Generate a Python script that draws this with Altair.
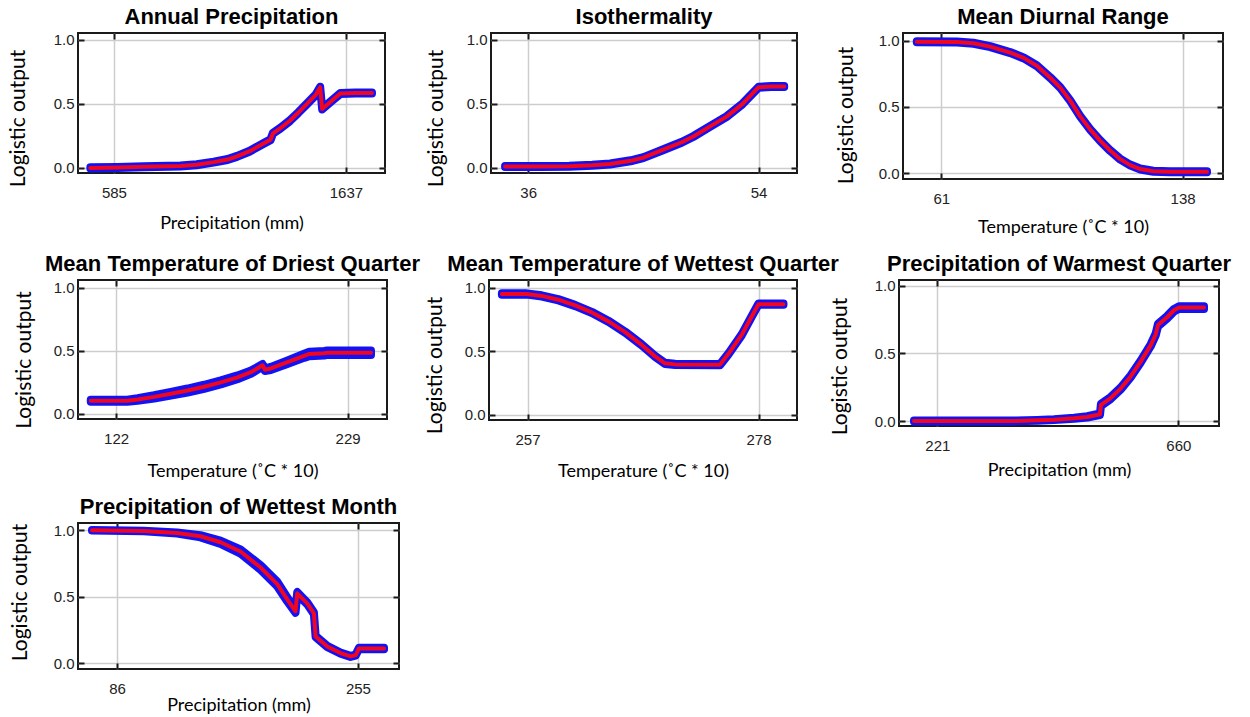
import altair as alt
import pandas as pd

BLUE = "#1212f5"
RED = "#f0061e"
GRID = "#cdcdcd"
FRAME = "#1a1a1a"

YTITLE = "Logistic output"
Y_TICKS = [0.0, 0.5, 1.0]

# ---- Annual Precipitation
AP_X = [478, 600, 720, 886, 960, 1037, 1100, 1143, 1200, 1263, 1295, 1306, 1340, 1384, 1420, 1460, 1500, 1520, 1529, 1570, 1611, 1680, 1755]
AP_Y = [0.0, 0.003, 0.008, 0.015, 0.025, 0.045, 0.065, 0.09, 0.13, 0.19, 0.22, 0.27, 0.31, 0.37, 0.43, 0.50, 0.57, 0.63, 0.46, 0.52, 0.58, 0.585, 0.585]
AP_SD = [0.004] * len(AP_X)
AP_TICKS = [585, 1637]

# ---- Isothermality
IS_X = [34.2, 37, 39.2, 41, 42.4, 44, 45.0, 46.5, 48, 48.9, 50.15, 51.5, 52.75, 54.0, 55, 56.0]
IS_Y = [0.01, 0.01, 0.012, 0.02, 0.03, 0.055, 0.08, 0.14, 0.2, 0.245, 0.32, 0.40, 0.50, 0.63, 0.635, 0.635]
IS_SD = [0.004] * len(IS_X)
IS_TICKS = [36, 54]

# ---- Mean Diurnal Range
MD_X = [53.2, 66, 71.3, 76.6, 83, 87.3, 91.5, 95.8, 99, 102.2, 105.3, 108.5, 111.7, 114.9, 118.1, 121.3, 124.5, 128.7, 134, 145.8]
MD_Y = [0.992, 0.99, 0.98, 0.955, 0.91, 0.87, 0.81, 0.72, 0.645, 0.545, 0.43, 0.33, 0.245, 0.17, 0.105, 0.06, 0.03, 0.013, 0.01, 0.01]
MD_SD = [0.004] * len(MD_X)
MD_TICKS = [61, 138]

# ---- Mean Temperature of Driest Quarter
DQ_X = [110.3, 127.2, 131.9, 139.6, 147.3, 155.0, 162.7, 170.4, 178.1, 184.3, 189.7, 190.8, 193.5, 201.2, 208.9, 211.3, 218.2, 219.7, 239.8]
DQ_Y = [0.105, 0.105, 0.115, 0.135, 0.16, 0.185, 0.215, 0.25, 0.29, 0.33, 0.385, 0.35, 0.36, 0.41, 0.46, 0.475, 0.48, 0.485, 0.485]
DQ_SD = [0.008, 0.008, 0.01, 0.013, 0.015, 0.016, 0.016, 0.016, 0.015, 0.013, 0.01, 0.01, 0.012, 0.014, 0.016, 0.018, 0.018, 0.018, 0.018]
DQ_TICKS = [122, 229]

# ---- Mean Temperature of Wettest Quarter
WQ_X = [254.67, 256.94, 258.3, 259.8, 261.33, 262.85, 264.36, 265.88, 267.39, 268.6, 269.5, 270.42, 274.5, 275.27, 276.48, 277.39, 278.0, 280.27]
WQ_Y = [0.95, 0.95, 0.935, 0.905, 0.86, 0.805, 0.735, 0.65, 0.55, 0.46, 0.405, 0.397, 0.395, 0.48, 0.63, 0.775, 0.87, 0.87]
WQ_SD = [0.005] * len(WQ_X)
WQ_TICKS = [257, 278]

# ---- Precipitation of Warmest Quarter
PW_X = [178.5, 360.7, 403.2, 433.5, 470, 494.2, 517.3, 519.1, 536.7, 555, 573.2, 591.4, 609.6, 618.7, 623, 640, 652.1, 661.2, 706.8]
PW_Y = [0.0, 0.0, 0.005, 0.01, 0.02, 0.03, 0.05, 0.12, 0.17, 0.24, 0.33, 0.44, 0.56, 0.64, 0.71, 0.77, 0.82, 0.84, 0.84]
PW_SD = [0.003, 0.003, 0.003, 0.003, 0.004, 0.005, 0.006, 0.008, 0.008, 0.008, 0.008, 0.008, 0.008, 0.008, 0.01, 0.01, 0.01, 0.01, 0.01]
PW_TICKS = [221, 660]

# ---- Precipitation of Wettest Month
PM_X = [68.4, 104.7, 128.1, 144.5, 158.6, 172.6, 186.7, 198.4, 205.4, 211.2, 212.4, 219.4, 224.1, 225.3, 233.5, 242.8, 249.8, 253.4, 255.7, 273.3]
PM_Y = [1.0, 0.995, 0.98, 0.955, 0.91, 0.84, 0.72, 0.595, 0.48, 0.39, 0.525, 0.45, 0.375, 0.2, 0.125, 0.075, 0.05, 0.06, 0.11, 0.11]
PM_SD = [0.002, 0.002, 0.004, 0.008, 0.012, 0.016, 0.018, 0.018, 0.016, 0.012, 0.01, 0.008, 0.008, 0.006, 0.005, 0.004, 0.004, 0.004, 0.006, 0.006]
PM_TICKS = [86, 255]

PRECIP = "Precipitation (mm)"
TEMP = "Temperature (\u02daC * 10)"


def inner_axis(orient, values):
    return alt.Axis(orient=orient, values=values, labels=False, domain=False, grid=False,
                    title=None, ticks=True, tickSize=6, tickWidth=2, tickColor=FRAME,
                    offset=-6)


def panel(title, xs, ys, sds, xdom, ydom, xticks, xtitle, w, h, ytp, ydy, xtp):
    df = pd.DataFrame({
        "x": xs,
        "mean": ys,
        "lo": [y - s for y, s in zip(ys, sds)],
        "hi": [y + s for y, s in zip(ys, sds)],
    })
    xsc = alt.Scale(domain=xdom, nice=False, zero=False)
    ysc = alt.Scale(domain=ydom, nice=False, zero=False)
    main_x = alt.Axis(orient="bottom", values=xticks, format="d", grid=True, gridColor=GRID, gridWidth=1.5,
                      ticks=False, tickSize=0, domain=False,
                      labelFont="Liberation Sans", labelFontSize=15, labelColor="#222222", labelPadding=12,
                      title=xtitle, titleFont="Lato", titleFontSize=18, titleFontWeight="normal",
                      titleColor="#000000", titlePadding=xtp)
    main_y = alt.Axis(orient="left", values=Y_TICKS, format=".1f", grid=True, gridColor=GRID, gridWidth=1.5,
                      ticks=False, tickSize=0, domain=False,
                      labelFont="Liberation Sans", labelFontSize=15, labelColor="#222222", labelPadding=4,
                      title=YTITLE, titleFont="Lato", titleFontSize=21, titleFontWeight="normal",
                      titleColor="#000000", titlePadding=ytp, titleY=h / 2 + ydy)
    area = alt.Chart(df).mark_area(fill=BLUE, stroke=BLUE, strokeWidth=8, strokeJoin="round").encode(
        x=alt.X("x:Q", scale=xsc, axis=main_x),
        y=alt.Y("lo:Q", scale=ysc, axis=main_y),
        y2="hi:Q",
    )
    inv = alt.Chart(df).mark_line(opacity=0).encode(
        x=alt.X("x:Q", scale=xsc, axis=inner_axis("bottom", xticks)),
        y=alt.Y("mean:Q", scale=ysc, axis=inner_axis("left", Y_TICKS)),
    )
    red = alt.Chart(df).mark_line(color=RED, strokeWidth=4, strokeJoin="round", strokeCap="round").encode(
        x=alt.X("x:Q", scale=xsc, axis=inner_axis("top", xticks)),
        y=alt.Y("mean:Q", scale=ysc, axis=inner_axis("right", Y_TICKS)),
    )
    return alt.layer(area, inv, red).resolve_axis(x="independent", y="independent").properties(
        width=w, height=h,
        title=alt.TitleParams(title, font="Liberation Sans", fontSize=22, fontWeight="bold",
                              color="#000000", anchor="middle", offset=3),
    )


p1 = panel("Annual Precipitation", AP_X, AP_Y, AP_SD, [422, 1814], [-0.04, 1.053], AP_TICKS, PRECIP, 307, 140, 25, 15, 14)
p2 = panel("Isothermality", IS_X, IS_Y, IS_SD, [33.1, 57.0], [-0.04, 1.053], IS_TICKS, None, 306, 140, 19.5, 15, 14)
p3 = panel("Mean Diurnal Range", MD_X, MD_Y, MD_SD, [48.8, 150.9], [-0.045, 1.058], MD_TICKS, TEMP, 320, 146, 21.5, 9, 12)
p4 = panel("Mean Temperature of Driest Quarter", DQ_X, DQ_Y, DQ_SD, [104.4, 247.2], [-0.04, 1.06], DQ_TICKS, TEMP, 309, 139, 19, 10, 16)
p5 = panel("Mean Temperature of Wettest Quarter", WQ_X, WQ_Y, WQ_SD, [253.5, 281.5], [-0.04, 1.06], WQ_TICKS, TEMP, 308, 140, 18.5, 15, 15)
p6 = panel("Precipitation of Warmest Quarter", PW_X, PW_Y, PW_SD, [151.2, 734.1], [-0.037, 1.044], PW_TICKS, PRECIP, 320, 146, 23.5, 13, 8)
p7 = panel("Precipitation of Wettest Month", PM_X, PM_Y, PM_SD, [58.6, 283.8], [-0.045, 1.055], PM_TICKS, PRECIP, 321, 146, 23, -4, 0)

row1 = alt.hconcat(p1, p2, p3, spacing=106, bounds="flush")
row2 = alt.hconcat(p4, p5, p6, spacing=102, bounds="flush")

chart = alt.vconcat(row1, row2, p7, spacing=14).properties(
    padding={"left": 6, "top": 5, "right": 0, "bottom": 0},
    background="white",
).configure_view(stroke=FRAME, strokeWidth=2)

chart.save("out.html", embed_options={"renderer": "svg", "actions": False})
